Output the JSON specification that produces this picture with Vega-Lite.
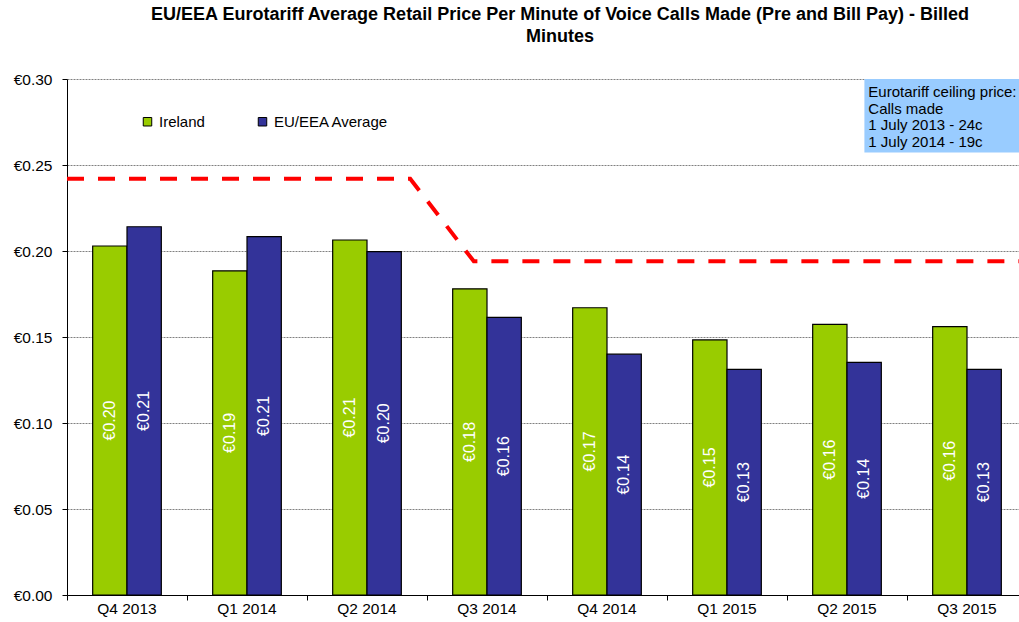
{
  "$schema": "https://vega.github.io/schema/vega-lite/v6.json",
  "autosize": {"type": "none"},
  "width": 960,
  "height": 516,
  "padding": {"left": 67, "top": 79, "right": 0, "bottom": 27},
  "background": "white",
  "config": {
    "font": "Liberation Sans",
    "view": {"stroke": null},
    "locale": {
      "number": {"decimal": ".", "thousands": ",", "grouping": [3], "currency": ["€", ""]}
    }
  },
  "title": {
    "text": ["EU/EEA Eurotariff Average Retail Price Per Minute of Voice Calls Made (Pre and Bill Pay) - Billed", "Minutes"],
    "fontSize": 18,
    "fontWeight": "bold",
    "anchor": "middle",
    "dx": 13,
    "lineHeight": 22,
    "offset": 26,
    "color": "black"
  },
  "datasets": {
    "prices": [
      {"quarter": "Q4 2013", "series": "Ireland", "value": 0.2029},
      {"quarter": "Q4 2013", "series": "EU/EEA Average", "value": 0.2141},
      {"quarter": "Q1 2014", "series": "Ireland", "value": 0.1885},
      {"quarter": "Q1 2014", "series": "EU/EEA Average", "value": 0.2083},
      {"quarter": "Q2 2014", "series": "Ireland", "value": 0.2064},
      {"quarter": "Q2 2014", "series": "EU/EEA Average", "value": 0.1996},
      {"quarter": "Q3 2014", "series": "Ireland", "value": 0.178},
      {"quarter": "Q3 2014", "series": "EU/EEA Average", "value": 0.1614},
      {"quarter": "Q4 2014", "series": "Ireland", "value": 0.167},
      {"quarter": "Q4 2014", "series": "EU/EEA Average", "value": 0.140},
      {"quarter": "Q1 2015", "series": "Ireland", "value": 0.1483},
      {"quarter": "Q1 2015", "series": "EU/EEA Average", "value": 0.1312},
      {"quarter": "Q2 2015", "series": "Ireland", "value": 0.1573},
      {"quarter": "Q2 2015", "series": "EU/EEA Average", "value": 0.1352},
      {"quarter": "Q3 2015", "series": "Ireland", "value": 0.156},
      {"quarter": "Q3 2015", "series": "EU/EEA Average", "value": 0.1312}
    ],
    "ceiling": [
      {"pos": 0, "price": 0.242},
      {"pos": 2.86, "price": 0.242},
      {"pos": 3.39, "price": 0.194},
      {"pos": 8, "price": 0.194}
    ],
    "note": [
      {"x": 6.645, "x2": 8, "y": 0.30, "y2": 0.2572, "tx": 6.678, "ty": 0.2965, "label": "Eurotariff ceiling price:\nCalls made\n1 July 2013 - 24c\n1 July 2014 - 19c"}
    ]
  },
  "layer": [
    {
      "data": {"name": "prices"},
      "mark": {"type": "bar", "stroke": "black", "strokeWidth": 1.2},
      "encoding": {
        "x": {
          "field": "quarter", "type": "nominal",
          "scale": {"domain": ["Q4 2013", "Q1 2014", "Q2 2014", "Q3 2014", "Q4 2014", "Q1 2015", "Q2 2015", "Q3 2015"], "paddingInner": 0.428, "paddingOuter": 0.214},
          "axis": {"title": null, "labelAngle": 0, "ticks": false, "labelPadding": 6, "labelFontSize": 15.5, "labelColor": "black", "domainColor": "black", "domainWidth": 1, "grid": false, "orient": "bottom"}
        },
        "xOffset": {"field": "series", "type": "nominal", "scale": {"domain": ["Ireland", "EU/EEA Average"]}},
        "y": {
          "field": "value", "type": "quantitative",
          "scale": {"domain": [0, 0.3], "nice": false},
          "axis": {"title": null, "values": [0, 0.05, 0.1, 0.15, 0.2, 0.25, 0.3], "format": "$.2f", "labelFontSize": 15.5, "labelColor": "black", "tickSize": 5, "tickColor": "black", "labelPadding": 10, "domainColor": "black", "grid": true, "gridColor": "#808080", "gridDash": [2, 1], "gridWidth": 1}
        },
        "color": {
          "field": "series", "type": "nominal",
          "scale": {"domain": ["Ireland", "EU/EEA Average"], "range": ["#99CC00", "#333399"]},
          "legend": {"title": null, "orient": "none", "legendX": 73, "legendY": 35, "direction": "horizontal", "padding": 0, "labelFontSize": 15, "labelColor": "black", "symbolType": "square", "symbolSize": 72, "symbolStrokeColor": "black", "symbolStrokeWidth": 1, "symbolOpacity": 1, "columnPadding": 50, "labelOffset": 4}
        }
      }
    },
    {
      "data": {"name": "prices"},
      "mark": {"type": "text", "angle": 270, "align": "center", "baseline": "middle", "fill": "white", "fontSize": 16},
      "encoding": {
        "x": {
          "field": "quarter", "type": "nominal",
          "scale": {"domain": ["Q4 2013", "Q1 2014", "Q2 2014", "Q3 2014", "Q4 2014", "Q1 2015", "Q2 2015", "Q3 2015"], "paddingInner": 0.428, "paddingOuter": 0.214},
          "axis": null
        },
        "xOffset": {"field": "series", "type": "nominal", "scale": {"domain": ["Ireland", "EU/EEA Average"]}},
        "y": {"field": "value", "type": "quantitative", "scale": {"domain": [0, 0.6], "nice": false}, "axis": null},
        "text": {"field": "value", "type": "quantitative", "format": "$.2f"}
      }
    },
    {
      "data": {"name": "ceiling"},
      "mark": {"type": "line", "color": "#FF0000", "strokeWidth": 4, "strokeDash": [17, 14]},
      "encoding": {
        "x": {"field": "pos", "type": "quantitative", "scale": {"domain": [0, 8], "nice": false, "zero": false},
          "axis": {"title": null, "orient": "bottom", "values": [0, 1, 2, 3, 4, 5, 6, 7, 8], "labels": false, "domain": false, "grid": false, "ticks": true, "tickSize": 5, "tickColor": "black"}},
        "y": {"field": "price", "type": "quantitative", "scale": {"domain": [0, 0.3], "nice": false}, "axis": null}
      }
    },
    {
      "data": {"name": "note"},
      "mark": {"type": "rect", "fill": "#99CCFF"},
      "encoding": {
        "x": {"field": "x", "type": "quantitative", "scale": {"domain": [0, 8], "nice": false, "zero": false}, "axis": null},
        "x2": {"field": "x2"},
        "y": {"field": "y", "type": "quantitative", "scale": {"domain": [0, 0.3], "nice": false}, "axis": null},
        "y2": {"field": "y2"}
      }
    },
    {
      "data": {"name": "note"},
      "mark": {"type": "text", "align": "left", "baseline": "top", "fontSize": 15, "lineHeight": 16.5, "lineBreak": "\n", "color": "black"},
      "encoding": {
        "x": {"field": "tx", "type": "quantitative", "scale": {"domain": [0, 8], "nice": false, "zero": false}, "axis": null},
        "y": {"field": "ty", "type": "quantitative", "scale": {"domain": [0, 0.3], "nice": false}, "axis": null},
        "text": {"field": "label"}
      }
    }
  ],
  "resolve": {"scale": {"x": "independent", "y": "independent", "xOffset": "independent"}}
}
